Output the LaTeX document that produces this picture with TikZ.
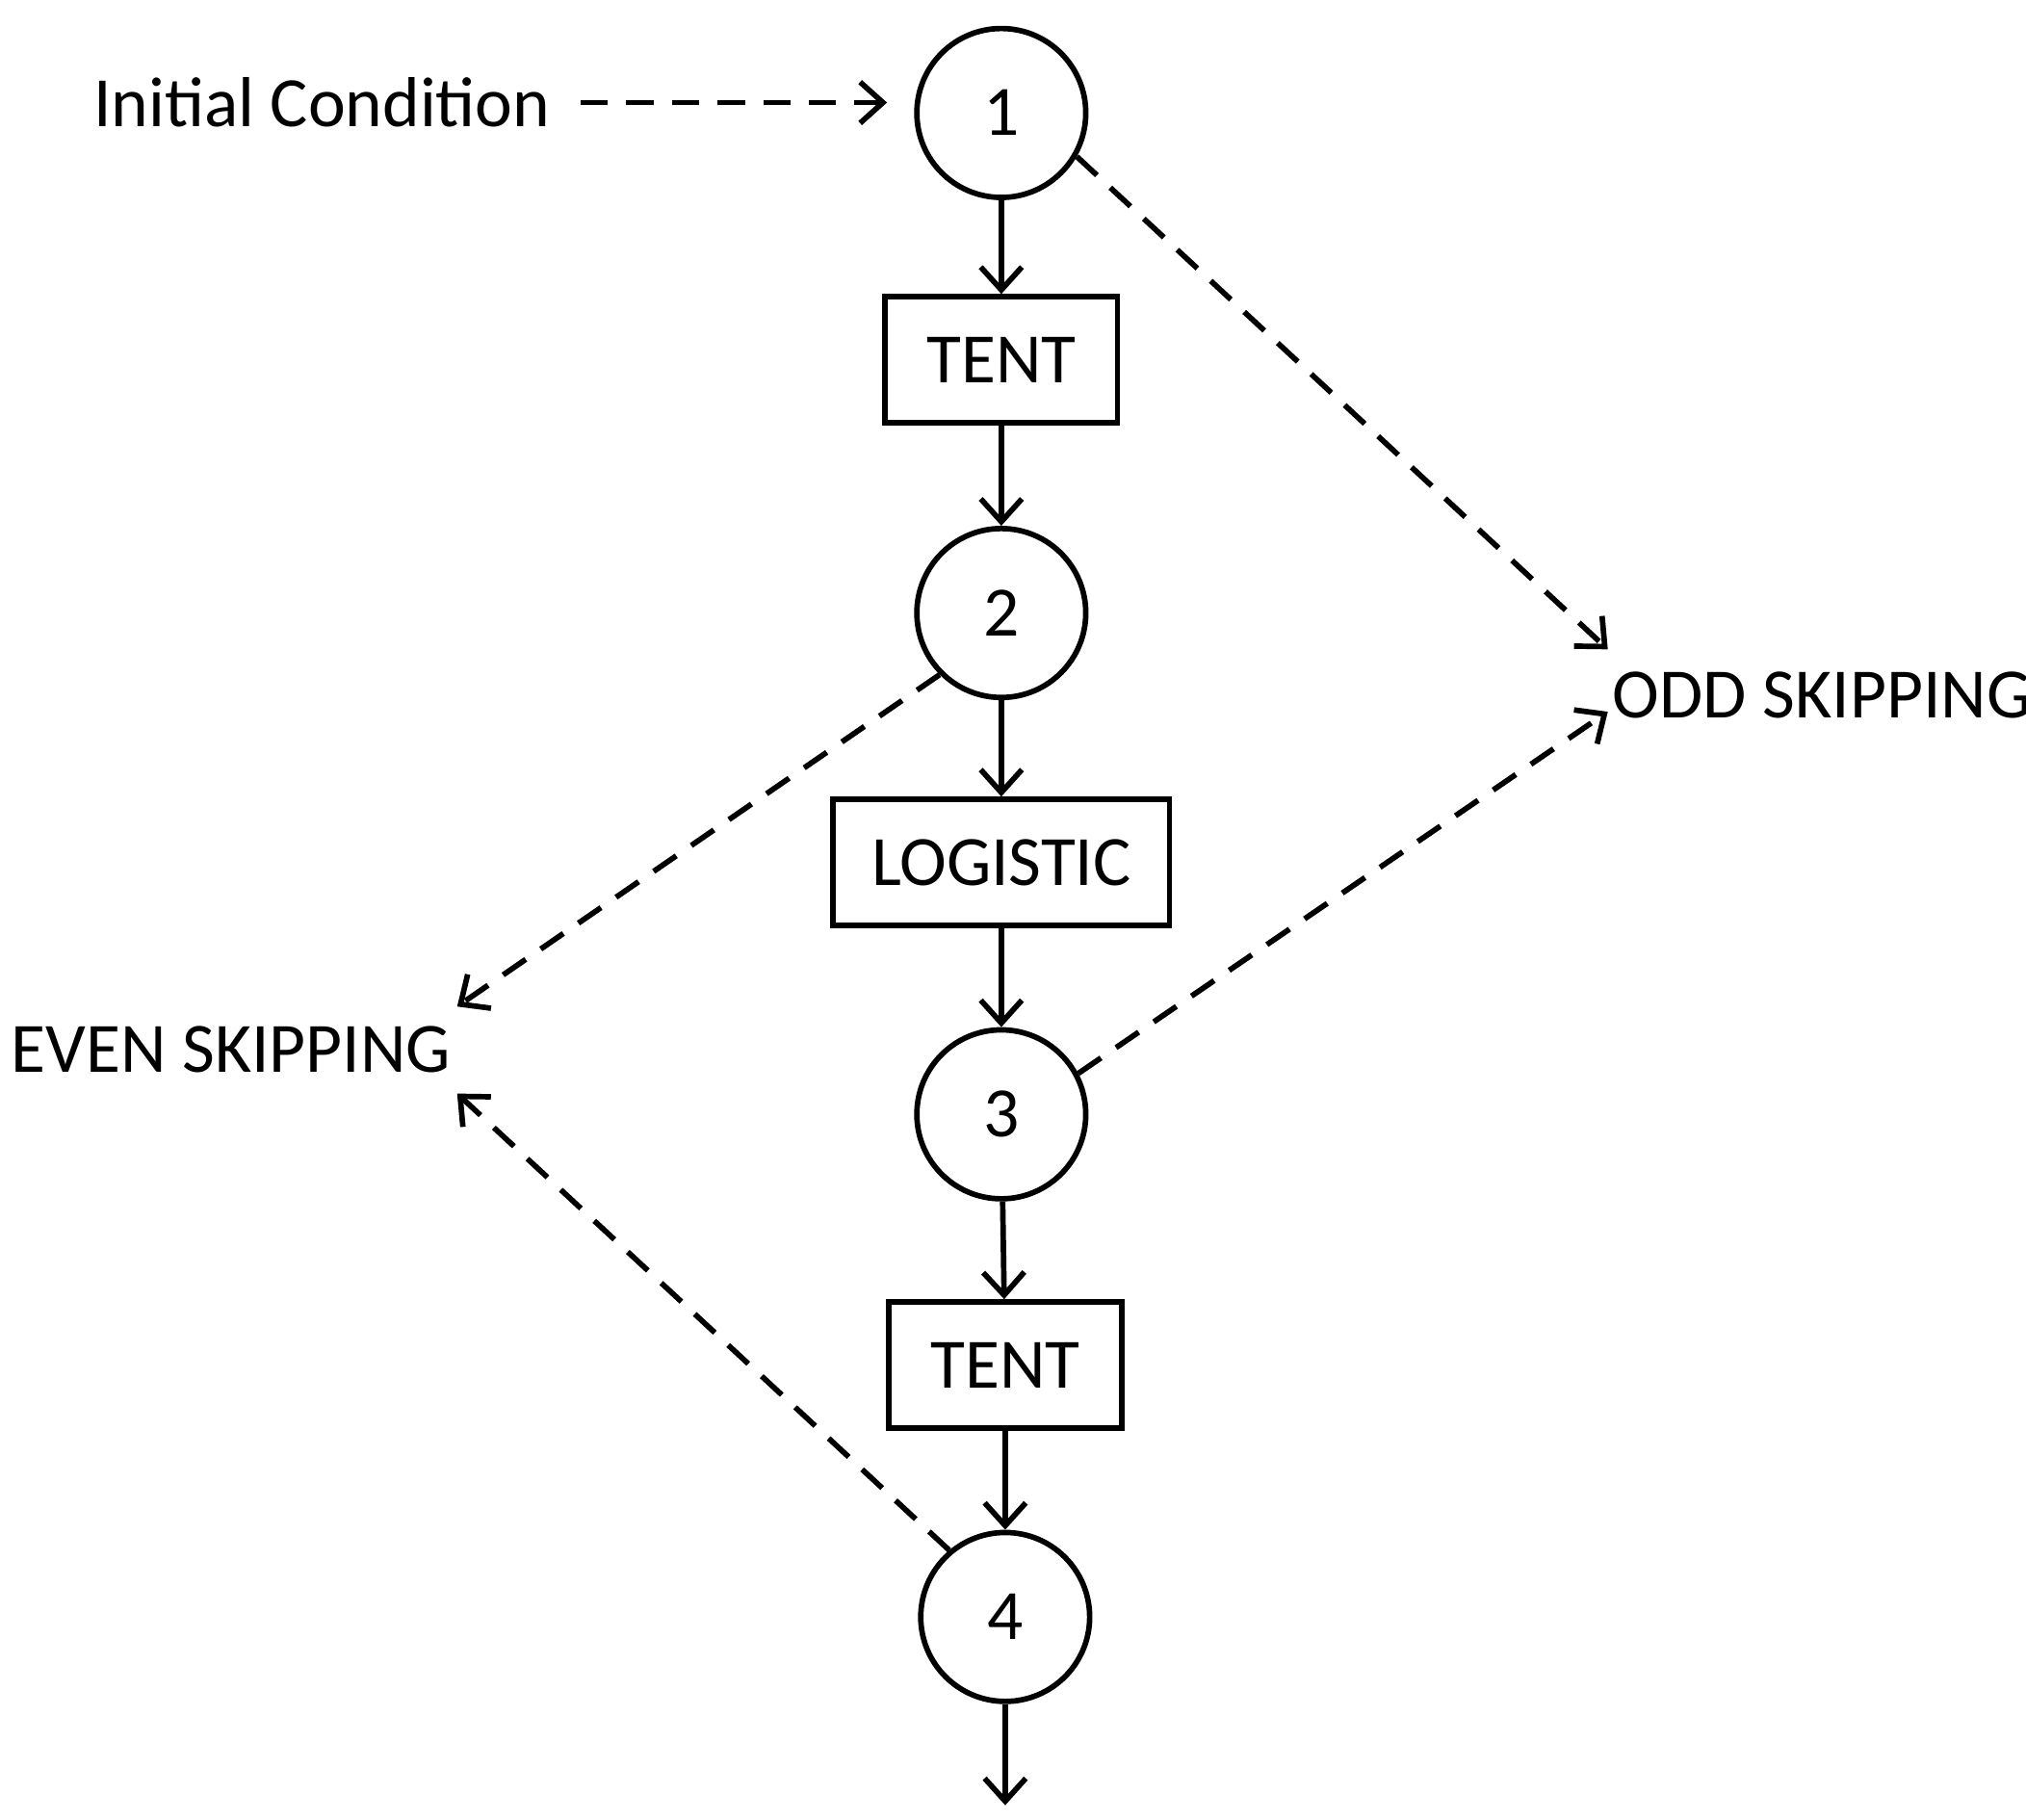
\documentclass[tikz,border=0pt]{standalone}
\usepackage{fontspec}
\setmainfont{Carlito}
\usetikzlibrary{arrows.meta}

\begin{document}
\begin{tikzpicture}[x=0.01cm,y=-0.01cm,
every node/.style={font=\fontsize{15.5}{18}\selectfont},
state/.style={circle,draw,line width=1.2pt,minimum size=1.3cm,inner sep=0pt},
map/.style={rectangle,draw,line width=1.2pt,minimum height=0.97cm},
flow/.style={-{Straight Barb[length=5pt,width=9pt]},line width=1.2pt},
skip/.style={flow,dashed,dash pattern=on 6pt off 4pt}]
\useasboundingbox (0,0) rectangle (1560,1401);

\node[state] (s1) at (771,87) {1};
\node[map,minimum width=1.79cm] (m1) at (771,277) {TENT};
\node[state] (s2) at (771,472) {2};
\node[map,minimum width=2.59cm] (m2) at (771,664) {LOGISTIC};
\node[state] (s3) at (771,858) {3};
\node[map,minimum width=1.79cm] (m3) at (774,1051) {TENT};
\node[state] (s4) at (774,1245) {4};
\coordinate (out) at (774,1390);

\node (init) at (248,79) {Initial Condition};
\node (odd) at (1403,535) {ODD SKIPPING};
\node (even) at (178,808) {EVEN SKIPPING};
\coordinate (initend) at (683,79);
\coordinate (oddtop) at (1238,500);
\coordinate (oddbot) at (1238,548);
\coordinate (eventop) at (352,775);
\coordinate (evenbot) at (352,842);

\draw[flow] (s1) -- (m1);
\draw[flow] (m1) -- (s2);
\draw[flow] (s2) -- (m2);
\draw[flow] (m2) -- (s3);
\draw[flow] (s3) -- (m3);
\draw[flow] (m3) -- (s4);
\draw[flow] (s4) -- (out);

% skipping paths
\draw[skip] (447,79) -- (initend);
\draw[skip] (s1.-30) -- (oddtop);
\draw[skip] (s3.28) -- (oddbot);
\draw[skip] (s2.-135) -- (eventop);
\draw[skip] (s4.130) -- (evenbot);
\end{tikzpicture}
\end{document}
